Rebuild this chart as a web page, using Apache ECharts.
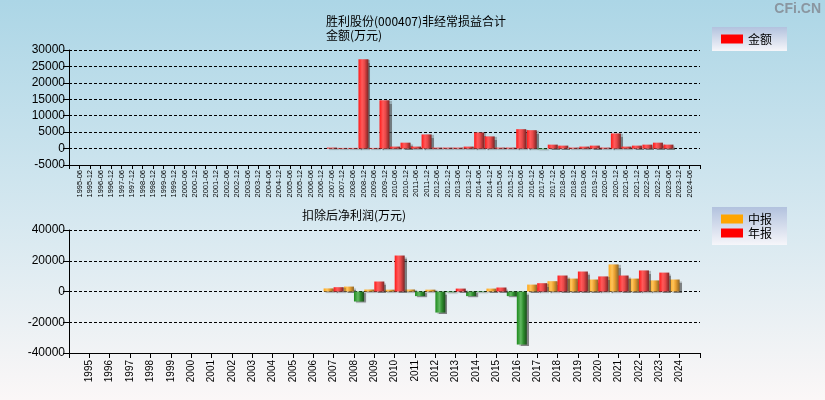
<!DOCTYPE html>
<html><head><meta charset="utf-8">
<script src="https://cdn.jsdelivr.net/npm/echarts@6/dist/echarts.min.js"></script>
<style>html,body{margin:0;padding:0;}#c{width:825px;height:400px;}</style>
</head><body><div id="c"></div>
<script>
// ---- data ----
var periodLabels = ['1995-06','1995-12','1996-06','1996-12','1997-06','1997-12','1998-06','1998-12','1999-06','1999-12',
 '2000-06','2000-12','2001-06','2001-12','2002-06','2002-12','2003-06','2003-12','2004-06','2004-12',
 '2005-06','2005-12','2006-06','2006-12','2007-06','2007-12','2008-06','2008-12','2009-06','2009-12',
 '2010-06','2010-12','2011-06','2011-12','2012-06','2012-12','2013-06','2013-12','2014-06','2014-12',
 '2015-06','2015-12','2016-06','2016-12','2017-06','2017-12','2018-06','2018-12','2019-06','2019-12',
 '2020-06','2020-12','2021-06','2021-12','2022-06','2022-12','2023-06','2023-12','2024-06'];
var nonRecurring = [null,null,null,null,null,null,null,null,null,null,
 null,null,null,null,null,null,null,null,null,null,
 null,null,null,null,300,200,200,27200,200,14700,
 600,1800,600,4300,300,300,300,600,4900,3700,
 300,300,5900,5600,-200,1200,900,300,600,900,
 300,4600,600,900,1200,1800,1200,null,null];
var yearLabels = ['1995','1996','1997','1998','1999','2000','2001','2002','2003','2004','2005','2006','2007','2008','2009',
 '2010','2011','2012','2013','2014','2015','2016','2017','2018','2019','2020','2021','2022','2023','2024'];
var midReport = [null,null,null,null,null,null,null,null,null,null,null,null,
 2000,3200,1300,1200,1300,1200,-500,-3000,1900,-3000,4500,6700,8400,7800,17600,8400,7200,7800];
var annualReport = [null,null,null,null,null,null,null,null,null,null,null,null,
 2800,-6500,6500,23400,-3000,-13700,1900,-400,2600,-34500,5400,10400,13000,9800,10400,13700,12300,null];
var topTicks = {min:-5000, max:30000, interval:5000};
var bottomTicks = {min:-40000, max:40000, interval:20000};

// ---- styles ----
function grad(stops){
  return new echarts.graphic.LinearGradient(0,0,1,0, stops.map(function(s){return {offset:s[0],color:s[1]};}));
}
var RED = grad([[0,'#ff1818'],[0.35,'#ff5a5a'],[0.6,'#e84848'],[1,'#7a2424']]);
var ORANGE = grad([[0,'#ffa81a'],[0.35,'#ffc45a'],[0.6,'#eaa030'],[1,'#8a6428']]);
var GREEN = grad([[0,'#1c8a1c'],[0.4,'#62b862'],[0.65,'#2e8e2e'],[1,'#1a4e1a']]);
var shadow = {shadowColor:'rgba(70,70,70,0.65)', shadowOffsetX:2, shadowOffsetY:1, shadowBlur:1};

function mkData(arr, pos){
  var out = [null];
  arr.forEach(function(v){
    if(v===null){ out.push(null); return; }
    out.push({value:v, itemStyle:Object.assign({color: v<0 ? GREEN : pos}, shadow)});
  });
  out.push(null);
  return out;
}
var topCats = [''].concat(periodLabels, ['']);
var botCats = [''].concat(yearLabels, ['']);

var font = 'Liberation Sans';
var cjk = 'Noto Sans CJK SC';
var legendBg = new echarts.graphic.LinearGradient(0,0,0,1,[{offset:0,color:'#b2c2de'},{offset:1,color:'#f6f6fa'}]);

var chart = echarts.init(document.getElementById('c'), null, {renderer:'canvas'});
var split = {show:true, lineStyle:{color:'#000', type:[3,2], width:1}};
var axisLine = {show:true, onZero:false, lineStyle:{color:'#000', width:1}};
var plain = function(v){ return String(v); };

chart.setOption({
  animation:false,
  backgroundColor: new echarts.graphic.LinearGradient(0,0,0,1,[{offset:0,color:'#acd6e6'},{offset:0.55,color:'#d6e8f0'},{offset:1,color:'#fbf7f7'}]),
  title:[
    {text:'胜利股份(000407)非经常损益合计', left:321, top:10, textStyle:{fontSize:12, fontWeight:'normal', color:'#000', fontFamily:cjk}},
    {text:'金额(万元)', left:321, top:24, textStyle:{fontSize:12, fontWeight:'normal', color:'#000', fontFamily:cjk}},
    {text:'扣除后净利润(万元)', left:297, top:204, textStyle:{fontSize:12, fontWeight:'normal', color:'#000', fontFamily:cjk}}
  ],
  graphic:[
    {type:'text', right:4, top:2, style:{text:'CFi.CN', fill:'#8a96a0', font:'bold 14px "Liberation Sans"'}}
  ],
  legend:[
    {data:[{name:'金额', itemStyle:{color:'#ff0000'}}], left:712, top:27, orient:'vertical', icon:'rect',
     itemWidth:22, itemHeight:9, itemGap:2, padding:[6,15,6,9], backgroundColor:legendBg,
     textStyle:{fontSize:12, color:'#000', fontFamily:cjk}},
    {data:[{name:'中报', itemStyle:{color:'#ffa500'}},{name:'年报', itemStyle:{color:'#ff0000'}}], left:712, top:207, orient:'vertical', icon:'rect',
     itemWidth:22, itemHeight:9, itemGap:2, padding:[6,15,6,9], backgroundColor:legendBg,
     textStyle:{fontSize:12, color:'#000', fontFamily:cjk}}
  ],
  grid:[
    {left:69, right:125, top:50, height:115},
    {left:69, right:125, top:230, height:123}
  ],
  xAxis:[
    {gridIndex:0, type:'category', data:topCats, boundaryGap:false, axisLine:axisLine,
     axisTick:{show:true, interval:0, length:4, lineStyle:{color:'#000'}},
     axisLabel:{interval:0, rotate:90, fontSize:7.5, color:'#000', fontFamily:font, margin:5}},
    {gridIndex:1, type:'category', data:botCats, boundaryGap:false, axisLine:axisLine,
     axisTick:{show:true, interval:0, length:5, lineStyle:{color:'#000'}},
     axisLabel:{interval:0, rotate:90, fontSize:10, color:'#000', fontFamily:font, margin:7}}
  ],
  yAxis:[
    {gridIndex:0, type:'value', min:topTicks.min, max:topTicks.max, interval:topTicks.interval,
     axisLine:{show:true, lineStyle:{color:'#000'}}, axisTick:{show:true, length:6, lineStyle:{color:'#000'}},
     splitLine:split, axisLabel:{fontSize:12, color:'#000', fontFamily:font, margin:4, formatter:plain}},
    {gridIndex:1, type:'value', min:bottomTicks.min, max:bottomTicks.max, interval:bottomTicks.interval,
     axisLine:{show:true, lineStyle:{color:'#000'}}, axisTick:{show:true, length:6, lineStyle:{color:'#000'}},
     splitLine:split, axisLabel:{fontSize:12, color:'#000', fontFamily:font, margin:4, formatter:plain}}
  ],
  series:[
    {name:'金额', type:'bar', xAxisIndex:0, yAxisIndex:0, barWidth:10, data:mkData(nonRecurring, RED)},
    {name:'中报', type:'bar', xAxisIndex:1, yAxisIndex:1, barWidth:10, barGap:'0%', data:mkData(midReport, ORANGE)},
    {name:'年报', type:'bar', xAxisIndex:1, yAxisIndex:1, barWidth:10, barGap:'0%', data:mkData(annualReport, RED)}
  ]
});
</script>
</body></html>
